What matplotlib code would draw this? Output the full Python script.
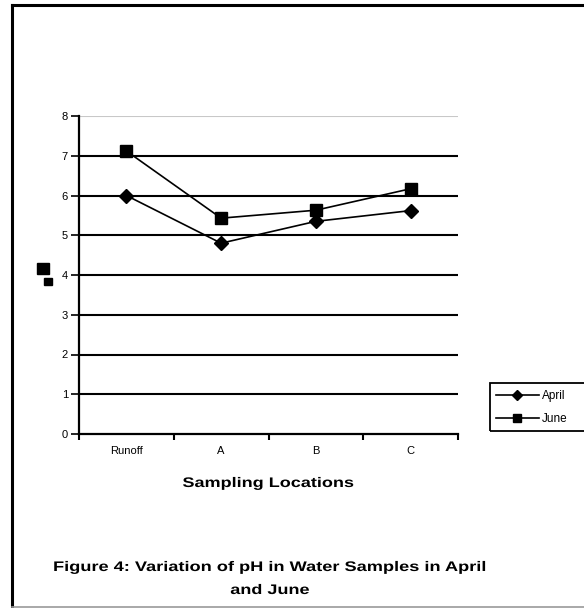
import matplotlib.pyplot as plt
from matplotlib.lines import Line2D
from matplotlib.patches import Rectangle
from matplotlib.patheffects import AbstractPathEffect
from matplotlib.transforms import Affine2D

plt.rcParams['font.family'] = ['Liberation Sans', 'DejaVu Sans']

# pH readings at each sampling site
locations = ['Runoff', 'A', 'B', 'C']
april_ph = [6.0, 4.8, 5.35, 5.62]
june_ph = [7.12, 5.43, 5.63, 6.17]
y_ticks = [0, 1, 2, 3, 4, 5, 6, 7, 8]

W, H = 584, 608
fig = plt.figure(figsize=(W / 100, H / 100), dpi=100)


def fx(px):
    return px / W


def fy(py):
    return 1 - py / H


class WideText(AbstractPathEffect):
    """Stretch text horizontally about a fixed x (display pixels)."""

    def __init__(self, cx, sx):
        super().__init__()
        self.cx = cx
        self.sx = sx

    def draw_path(self, renderer, gc, tpath, affine, rgbFace=None):
        t = affine + Affine2D().translate(-self.cx, 0).scale(self.sx, 1).translate(self.cx, 0)
        renderer.draw_path(gc, tpath, t, rgbFace)


ax = fig.add_axes([fx(79), fy(434), fx(458) - fx(79), fy(116) - fy(434)])

# horizontal gridlines, the top one drawn light grey
for t in y_ticks[1:]:
    ax.axhline(t, color='#c8c8c8' if t == y_ticks[-1] else 'black', lw=1.5, zorder=1)

x = list(range(len(locations)))
ax.plot(x, april_ph, color='black', lw=1.2, marker='D', markersize=7.5, label='April', zorder=3)
ax.plot(x, june_ph, color='black', lw=1.2, marker='s', markersize=8.5, label='June', zorder=3)

ax.set_xlim(-0.5, len(locations) - 0.5)
ax.set_ylim(0, 8)
ax.set_yticks(y_ticks)
ax.tick_params(axis='y', direction='out', length=6, width=1.2, labelsize=8, pad=2)

# category boundaries carry the tick marks, labels sit between them
ax.set_xticks([i - 0.5 for i in range(len(locations) + 1)])
ax.set_xticklabels([])
ax.set_xticks(x, minor=True)
ax.set_xticklabels(locations, minor=True)
ax.tick_params(axis='x', which='major', direction='out', length=4, width=1.5)
ax.tick_params(axis='x', which='minor', length=0, labelsize=8, pad=9)

for side in ['top', 'right']:
    ax.spines[side].set_visible(False)
for side in ['left', 'bottom']:
    ax.spines[side].set_linewidth(1.6)

fig.text(fx(268), fy(483), 'Sampling Locations', ha='center', va='center',
         fontsize=10, fontweight='bold', path_effects=[WideText(268, 1.3)])
fig.text(fx(270), fy(567), 'Figure 4: Variation of pH in Water Samples in April',
         ha='center', va='center', fontsize=10, fontweight='bold',
         path_effects=[WideText(270, 1.31)])
fig.text(fx(270), fy(590), 'and June', ha='center', va='center',
         fontsize=10, fontweight='bold', path_effects=[WideText(270, 1.3)])

# legend box runs off the right edge
fig.add_artist(Rectangle((fx(490), fy(431)), fx(600) - fx(490), fy(383) - fy(431),
                         transform=fig.transFigure, fill=False, edgecolor='black', lw=1.3))
leg = fig.legend(loc='center left', bbox_to_anchor=(fx(496), fy(407.5)), frameon=False,
                 fontsize=8.5, handlelength=3.6, handletextpad=0.3, labelspacing=0.95,
                 markerscale=0.62, borderpad=0, borderaxespad=0)

# stray squares left of the y axis
fig.add_artist(Rectangle((fx(37), fy(274)), fx(12), fy(263) - fy(274),
                         transform=fig.transFigure, color='black'))
fig.add_artist(Rectangle((fx(43.5), fy(285)), fx(8), fy(278) - fy(285),
                         transform=fig.transFigure, color='black'))

# page frame: heavy top and left rules, thin grey bottom rule
fig.add_artist(Line2D([fx(12), fx(584)], [fy(5), fy(5)], color='black', lw=2.2))
fig.add_artist(Line2D([fx(12), fx(12)], [fy(5), fy(607)], color='black', lw=2.2))
fig.add_artist(Line2D([fx(12), fx(584)], [fy(607), fy(607)], color='#999999', lw=1.2))

fig.savefig('out.png', dpi=100)
